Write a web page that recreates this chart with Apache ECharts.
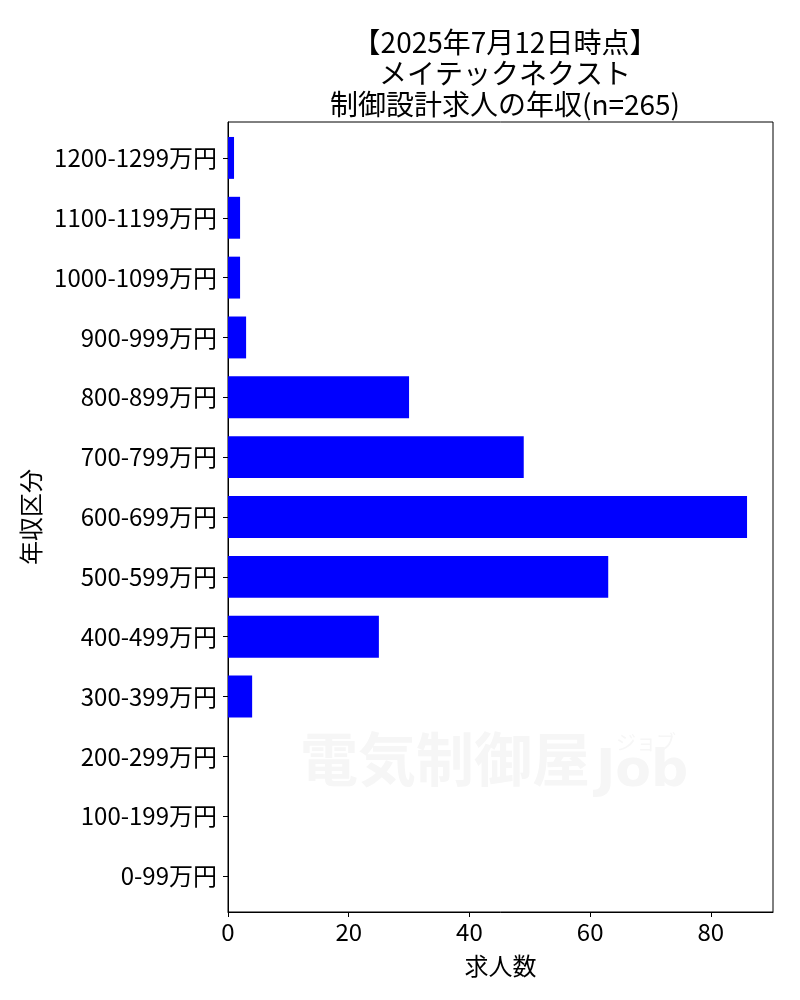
<!DOCTYPE html>
<html>
<head>
<meta charset="utf-8">
<script src="https://cdn.jsdelivr.net/npm/echarts@6/dist/echarts.min.js"></script>
<style>
html,body{margin:0;padding:0;background:#fff;}
#chart{width:800px;height:1000px;}
</style>
</head>
<body>
<div id="chart"></div>
<script>
var categories = ['0-99万円','100-199万円','200-299万円','300-399万円','400-499万円','500-599万円','600-699万円','700-799万円','800-899万円','900-999万円','1000-1099万円','1100-1199万円','1200-1299万円'];
var counts = [0,0,0,4,25,63,86,49,30,3,2,2,1];
var xTicks = [0,20,40,60,80];
var titleLines = ['【2025年7月12日時点】','メイテックネクスト','制御設計求人の年収(n=265)'];

var FONT = '"Noto Sans CJK JP", sans-serif';
var chart = echarts.init(document.getElementById('chart'), null, {renderer:'canvas'});
var yIdx = categories.map(function(c,i){return i;});
var barData = counts.map(function(v,i){return [v,i];});

chart.setOption({
  animation:false,
  backgroundColor:'#fff',
  title:{
    text: titleLines.join('\n'),
    left: 500, top: 22, textAlign:'center',
    textStyle:{fontFamily:FONT,fontSize:28,fontWeight:'normal',color:'#000',lineHeight:31}
  },
  graphic:[
    {type:'text',left:300,top:730,z:-10,silent:true,
     style:{text:'電気制御屋',fontFamily:FONT,fontSize:58,fontWeight:'bold',fill:'#f6f6f6'}},
    {type:'text',left:596,top:746,z:-10,silent:true,
     style:{text:'Job',fontFamily:'"DejaVu Sans", sans-serif',fontSize:52,fontWeight:'bold',fill:'#f6f6f6'}},
    {type:'text',left:616,top:732,z:-10,silent:true,
     style:{text:'ジョブ',fontFamily:FONT,fontSize:20,fill:'#f6f6f6'}}
  ],
  grid:{left:228,right:27,top:122,bottom:88,show:true,borderColor:'#000',borderWidth:1,containLabel:false,backgroundColor:'transparent'},
  xAxis:{
    type:'value',min:0,max:90.3,
    name:'求人数',nameLocation:'middle',nameGap:42,
    nameTextStyle:{fontFamily:FONT,fontSize:24,color:'#000'},
    axisLine:{show:true,onZero:false,lineStyle:{color:'#000',width:1}},
    axisTick:{show:true,length:5,lineStyle:{color:'#000'},customValues:xTicks},
    axisLabel:{show:true,customValues:xTicks,fontFamily:FONT,fontSize:24,color:'#000',margin:8},
    splitLine:{show:false}
  },
  yAxis:{
    type:'value',min:-0.6,max:12.6,
    name:'年収区分',nameLocation:'middle',nameGap:172,nameRotate:90,
    nameTextStyle:{fontFamily:FONT,fontSize:24,color:'#000'},
    axisLine:{show:true,onZero:false,lineStyle:{color:'#000',width:1}},
    axisTick:{show:true,length:5,lineStyle:{color:'#000'},customValues:yIdx},
    axisLabel:{show:true,customValues:yIdx,fontFamily:FONT,fontSize:24,color:'#000',margin:11,
      formatter:function(v){return categories[Math.round(v)];}},
    splitLine:{show:false}
  },
  series:[{
    type:'custom',
    data:barData,
    encode:{x:0,y:1},
    renderItem:function(params,api){
      var v=api.value(0), i=api.value(1);
      var p0=api.coord([0,i]), p1=api.coord([v,i]);
      var h=api.size([0,0.7])[1];
      return {type:'rect',shape:{x:p0[0],y:p0[1]-h/2,width:p1[0]-p0[0],height:h},style:{fill:'#0000ff'}};
    }
  }]
});
</script>
</body>
</html>
